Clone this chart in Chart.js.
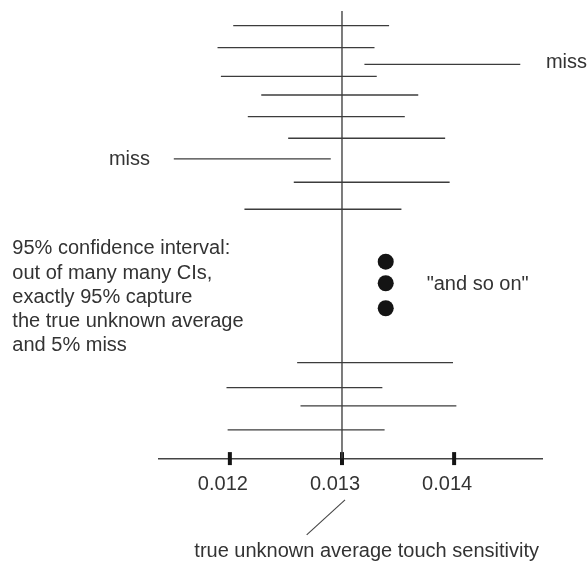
<!DOCTYPE html>
<html>
<head>
<meta charset="utf-8">
<script src="https://cdn.jsdelivr.net/npm/chart.js@4/dist/chart.umd.min.js"></script>
<style>
  html, body { margin: 0; padding: 0; background: #fff; }
  #wrap { width: 587px; height: 561px; position: relative; }
</style>
</head>
<body>
<div id="wrap"><canvas id="c" width="587" height="561"></canvas></div>
<script>
// ---- data ----
// confidence intervals (lower, upper) and their vertical row position
const ciLower = [0.01203, 0.01189, 0.01320, 0.01192, 0.01228, 0.01216, 0.01252, 0.01150, 0.01257, 0.01213, 0.01260, 0.01197, 0.01263, 0.01198];
const ciUpper = [0.01342, 0.01329, 0.01459, 0.01331, 0.01368, 0.01356, 0.01392, 0.01290, 0.01396, 0.01353, 0.01399, 0.01336, 0.01402, 0.01338];
const ciRow   = [25.7, 47.7, 64.3, 76.3, 95, 116.7, 138.3, 159, 182.3, 209.3, 362.7, 387.7, 406, 430];
// "and so on" dots
const dotX   = [0.01339, 0.01339, 0.01339];
const dotRow = [261.7, 283.3, 308.3];
// true value
const trueValue = 0.013;
// axis
const tickValues = [0.012, 0.013, 0.014];
const tickLabels = ["0.012", "0.013", "0.014"];
const xMin = 0.011368, xMax = 0.014790;
const rowMin = 0, rowMax = 458.7;

// ---- build datasets ----
const lineColor = '#3c3c3c';
const datasets = [];
ciLower.forEach((lo, i) => {
  datasets.push({
    type: 'line',
    data: [{x: lo, y: ciRow[i]}, {x: ciUpper[i], y: ciRow[i]}],
    borderColor: lineColor, borderWidth: 1.3, pointRadius: 0, fill: false
  });
});
// vertical line at true value
datasets.push({
  type: 'line',
  data: [{x: trueValue, y: 11}, {x: trueValue, y: rowMax}],
  borderColor: '#444', borderWidth: 1.4, pointRadius: 0, fill: false
});
// dots
datasets.push({
  type: 'scatter',
  data: dotX.map((x, i) => ({x, y: dotRow[i]})),
  pointRadius: 8, pointBackgroundColor: '#141414', pointBorderWidth: 0, borderWidth: 0
});
// tick marks crossing the axis
datasets.push({
  type: 'scatter',
  data: tickValues.map(v => ({x: v, y: rowMax})),
  pointStyle: 'line', rotation: 90, pointRadius: 6.5,
  pointBorderColor: '#141414', pointBorderWidth: 4, clip: false
});
// pointer from 0.013 label to caption
datasets.push({
  type: 'line',
  data: [{x: 0.013027, y: 500}, {x: 0.012685, y: 535}],
  borderColor: '#444', borderWidth: 1.1, pointRadius: 0, fill: false, clip: false
});

const notes = [
  {text: 'miss', x: 0.014819, y: 62, align: 'left'},
  {text: 'miss', x: 0.011288, y: 159.8, align: 'right'},
  {text: '"and so on"', x: 0.013755, y: 284.5, align: 'left'},
  {text: '95% confidence interval:', x: 0.01006, y: 248.2, align: 'left'},
  {text: 'out of many many CIs,', x: 0.01006, y: 273.2, align: 'left'},
  {text: 'exactly 95% capture', x: 0.01006, y: 297.5, align: 'left'},
  {text: 'the true unknown average', x: 0.01006, y: 321.5, align: 'left'},
  {text: 'and 5% miss', x: 0.01006, y: 345.5, align: 'left'},
  {text: 'true unknown average touch sensitivity', x: 0.011683, y: 551.5, align: 'left'}
];

const notePlugin = {
  id: 'notes',
  afterDraw(chart) {
    const ctx = chart.ctx, xs = chart.scales.x, ys = chart.scales.y;
    ctx.save();
    ctx.font = '20px "Liberation Sans", Arial, sans-serif';
    ctx.fillStyle = '#333';
    ctx.textBaseline = 'middle';
    notes.forEach(n => {
      ctx.textAlign = n.align;
      ctx.fillText(n.text, xs.getPixelForValue(n.x), ys.getPixelForValue(n.y));
    });
    ctx.restore();
  }
};

new Chart(document.getElementById('c'), {
  type: 'scatter',
  data: { datasets },
  options: {
    responsive: false,
    animation: false,
    layout: { autoPadding: false, padding: { left: 159, right: 44.3, top: 0, bottom: 51.4 } },
    plugins: { legend: { display: false }, tooltip: { enabled: false } },
    scales: {
      x: {
        type: 'linear', min: xMin, max: xMax,
        afterBuildTicks(scale) { scale.ticks = tickValues.map(v => ({value: v})); },
        ticks: {
          callback: (v) => { const i = tickValues.findIndex(t => Math.abs(t - v) < 1e-9); return i >= 0 ? tickLabels[i] : ''; },
          font: { family: '"Liberation Sans", Arial, sans-serif', size: 20 },
          color: '#333', padding: 13.5, labelOffset: -7, maxRotation: 0, autoSkip: false
        },
        grid: { display: false, drawTicks: false },
        border: { display: true, color: '#444', width: 1.4 }
      },
      y: {
        type: 'linear', reverse: true, min: rowMin, max: rowMax, display: false
      }
    }
  },
  plugins: [notePlugin]
});
</script>
</body>
</html>
